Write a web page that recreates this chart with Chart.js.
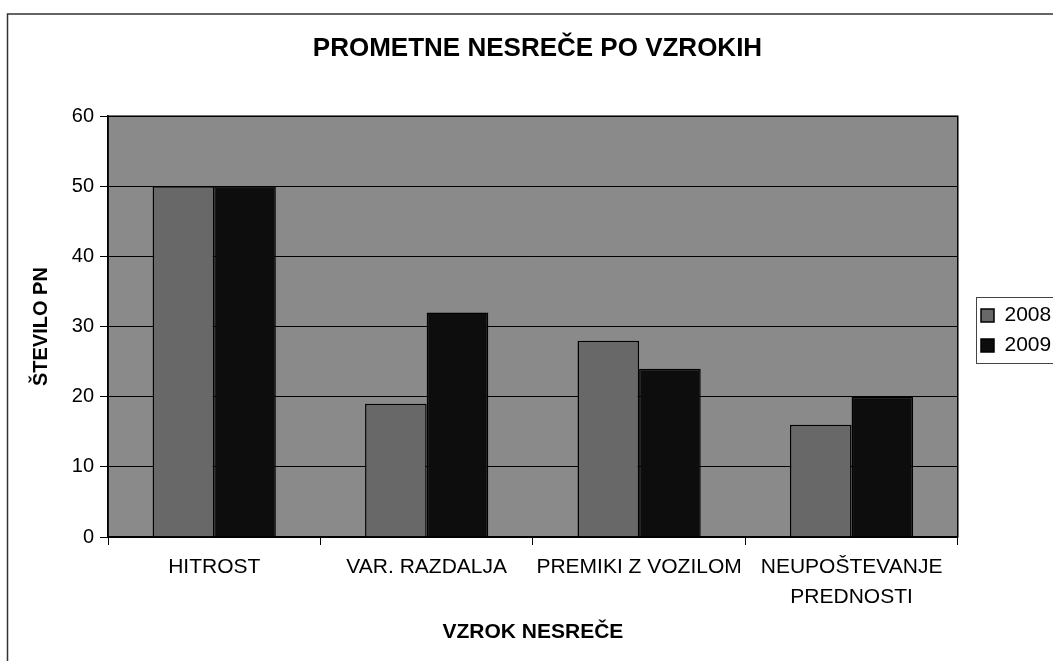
<!DOCTYPE html>
<html>
<head>
<meta charset="utf-8">
<script src="https://cdn.jsdelivr.net/npm/chart.js@4.4.1/dist/chart.umd.min.js"></script>
<style>
html, body { margin: 0; padding: 0; background: #fff; }
</style>
</head>
<body>
<canvas id="chart" width="1053" height="661"></canvas>
<script>
const categories = ['HITROST', 'VAR. RAZDALJA', 'PREMIKI Z VOZILOM', ['NEUPOŠTEVANJE', 'PREDNOSTI']];
const seriesNames = ['2008', '2009'];
const values2008 = [50, 19, 28, 16];
const values2009 = [50, 32, 24, 20];
const yTicks = [0, 10, 20, 30, 40, 50, 60];

const colors = {
    plot: '#8a8a8a',
    y2008: '#686868',
    y2009: '#0d0d0d'
};
const FONT = "'Liberation Sans', Arial, sans-serif";
const LEGEND_X = 981; // left edge of the legend squares
const TITLE_SHIFT = 14; // title sits a bit right of page centre in the scan

// white page, outer frame, grey plot area
const frame = {
    id: 'frame',
    afterLayout(chart) {
        // push the legend to the right edge like in the scan
        const lg = chart.legend;
        const dx = LEGEND_X - (lg.left + lg.options.labels.padding);
        lg.left += dx;
        lg.right += dx;
        if (chart.titleBlock) {
            chart.titleBlock.left += TITLE_SHIFT;
            chart.titleBlock.right += TITLE_SHIFT;
        }
    },
    beforeDraw(chart) {
        const { ctx, chartArea: a } = chart;
        ctx.save();
        ctx.fillStyle = '#fff';
        ctx.fillRect(0, 0, chart.width, chart.height);
        ctx.strokeStyle = '#333';
        ctx.lineWidth = 1.5;
        ctx.strokeRect(7.5, 14, chart.width + 20, chart.height + 20);
        ctx.fillStyle = colors.plot;
        ctx.fillRect(a.left, a.top, a.right - a.left, a.bottom - a.top);
        ctx.restore();
    },
    afterDraw(chart) {
        const { ctx, chartArea: a } = chart;
        ctx.save();
        ctx.strokeStyle = '#000';
        ctx.lineWidth = 1.5;
        ctx.strokeRect(a.left, a.top, a.right - a.left, a.bottom - a.top);
        // box round the legend
        const boxes = chart.legend.legendHitBoxes;
        if (boxes && boxes.length) {
            const left = Math.min(...boxes.map(b => b.left)) - 5;
            const top = Math.min(...boxes.map(b => b.top)) - 8;
            const bottom = Math.max(...boxes.map(b => b.top + b.height)) + 7;
            ctx.lineWidth = 1;
            ctx.strokeStyle = '#444';
            ctx.strokeRect(left + 0.5, top + 0.5, chart.width, bottom - top);
        }
        ctx.restore();
    }
};

new Chart(document.getElementById('chart').getContext('2d'), {
    type: 'bar',
    data: {
        labels: categories,
        datasets: [{
            label: seriesNames[0],
            data: values2008,
            backgroundColor: colors.y2008,
            borderColor: '#000',
            borderWidth: 1.5
        }, {
            label: seriesNames[1],
            data: values2009,
            backgroundColor: colors.y2009,
            borderColor: '#000',
            borderWidth: 1.5
        }]
    },
    options: {
        responsive: false,
        animation: false,
        devicePixelRatio: 1,
        layout: { padding: { left: 0, right: 6, top: 0, bottom: 0 } },
        datasets: {
            bar: { categoryPercentage: 0.58, barPercentage: 1.0 }
        },
        scales: {
            x: {
                grid: { drawOnChartArea: false, drawTicks: true, tickLength: 8, color: '#000', offset: true },
                border: { color: '#000', width: 1.5 },
                ticks: { color: '#000', padding: 8, font: { family: FONT, size: 21, lineHeight: 1.4 }, maxRotation: 0, autoSkip: false },
                title: {
                    display: true,
                    text: 'VZROK NESREČE',
                    color: '#000',
                    font: { family: FONT, size: 21, weight: 'bold' },
                    padding: { top: 0, bottom: 16 }
                },
                afterFit(scale) { scale.height = 124; }
            },
            y: {
                min: yTicks[0],
                max: yTicks[yTicks.length - 1],
                grid: { color: '#000', lineWidth: 1, tickLength: 8 },
                border: { color: '#000', width: 1.5 },
                ticks: { color: '#000', stepSize: yTicks[1] - yTicks[0], padding: 6, font: { family: FONT, size: 20 } },
                title: {
                    display: true,
                    text: 'ŠTEVILO PN',
                    color: '#000',
                    font: { family: FONT, size: 20, weight: 'bold' },
                    padding: { top: 29, bottom: 0 }
                },
                afterFit(scale) { scale.width = 108; }
            }
        },
        plugins: {
            title: {
                display: true,
                text: 'PROMETNE NESREČE PO VZROKIH',
                color: '#000',
                font: { family: FONT, size: 26, weight: 'bold' },
                padding: { top: 33, bottom: 52 }
            },
            legend: {
                position: 'right',
                labels: {
                    color: '#000',
                    boxWidth: 13,
                    boxHeight: 13,
                    padding: 9,
                    font: { family: FONT, size: 21 },
                    generateLabels(chart) {
                        return chart.data.datasets.map((ds, i) => ({
                            text: ds.label,
                            fillStyle: ds.backgroundColor,
                            strokeStyle: '#000',
                            lineWidth: 1.5,
                            datasetIndex: i
                        }));
                    }
                }
            },
            tooltip: { enabled: false }
        }
    },
    plugins: [frame]
});
</script>
</body>
</html>
